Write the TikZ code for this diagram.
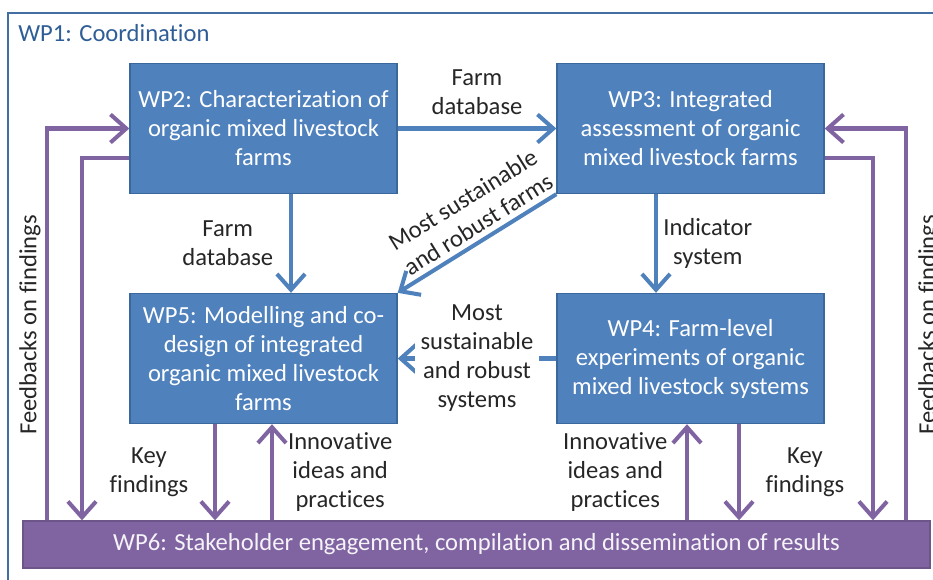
\documentclass[tikz,border=0pt]{standalone}
\usepackage{fontspec}
\setmainfont[Ligatures=NoCommon]{Carlito}
\usepackage{tikz}
\usetikzlibrary{arrows.meta}

\definecolor{wpblue}{HTML}{4F81BD}
\definecolor{wpblueline}{HTML}{3A679C}
\definecolor{wppurple}{HTML}{8064A2}
\definecolor{wptitle}{HTML}{2F5E97}
\definecolor{lbltext}{HTML}{262626}

\tikzset{
    wpbox/.style={draw=wpblueline, line width=0.8pt, fill=wpblue, text=white, align=center,
        minimum width=5.34cm, minimum height=2.6cm, inner sep=2pt},
    flow/.style={draw=wpblue, line width=2.3pt, -{Straight Barb[length=9pt,width=16pt]}},
    feedback/.style={draw=wppurple, line width=2.3pt, -{Straight Barb[length=9pt,width=16pt]}},
    lbl/.style={text=lbltext, align=center, inner sep=3pt},
}

\begin{document}
\begin{tikzpicture}[x=0.02cm, y=-0.02cm, font=\fontsize{14}{16.5}\selectfont]
        \useasboundingbox (0,0) rectangle (933,579);
        \draw [wpblue!85!black, line width=1.1pt] (8,600) -- (8,13) -- (945,13) -- (945,600);
        \node [anchor=west, text=wptitle, inner sep=0pt] (WP1) at (18,33) {WP1: Coordination};

        \node [wpbox] (WP2) at (263.5,128.5) {WP2: Characterization of\\organic mixed livestock\\farms};
        \node [wpbox] (WP3) at (690.5,128.5) {WP3: Integrated\\assessment of organic\\mixed livestock farms};
        \node [wpbox] (WP5) at (263.5,358.5) {WP5: Modelling and co-\\design of integrated\\organic mixed livestock\\farms};
        \node [wpbox] (WP4) at (690.5,358.5) {WP4: Farm-level\\experiments of organic\\mixed livestock systems};
        \node [wpbox, fill=wppurple, draw=wppurple!85!black, text=white!92!wppurple,
            minimum width=18.14cm, minimum height=0.94cm] (WP6) at (476.5,544.5)
            {WP6: Stakeholder engagement, compilation and dissemination of results};

        \coordinate (fbL) at (47,0);
        \coordinate (kfL) at (82,0);
        \coordinate (kf5) at (215,0);
        \coordinate (ip5) at (272,0);
        \coordinate (ip4) at (687,0);
        \coordinate (kf4) at (739,0);
        \coordinate (kfR) at (873,0);
        \coordinate (fbR) at (906,0);

        % work package flows
        \draw [flow] (WP2) -- (WP3) node [midway, above=4pt, lbl] {Farm\\database};
        \draw [flow] ([xshift=0.55cm]WP2.south) -- ([xshift=0.55cm]WP5.north) node [midway, left=6pt, lbl] {Farm\\database};
        \draw [flow] (WP3.south west) -- (WP5.north east) node [pos=0.44, sloped, above, lbl] {Most sustainable\\and robust farms};
        \draw [flow] ([xshift=-0.69cm]WP3.south) -- ([xshift=-0.69cm]WP4.north) node [midway, right, lbl] {Indicator\\system};
        \draw [flow] (WP4) -- (WP5) node [midway, fill=white, lbl] {Most\\sustainable\\and robust\\systems};

        % exchanges with WP6
        \draw [feedback] (kf5 |- WP5.south) -- (kf5 |- WP6.north) node [midway, left=11pt, lbl] {Key\\findings};
        \draw [feedback] (ip5 |- WP6.north) -- (ip5 |- WP5.south) node [midway, right=5pt, lbl] {Innovative\\ideas and\\practices};
        \draw [feedback] (ip4 |- WP6.north) -- (ip4 |- WP4.south) node [midway, left=7pt, lbl] {Innovative\\ideas and\\practices};
        \draw [feedback] (kf4 |- WP4.south) -- (kf4 |- WP6.north) node [midway, right=11pt, lbl] {Key\\findings};

        % feedback loops
        \draw [feedback] (fbL |- WP6.north) |- (WP2.west);
        \draw [feedback] ([yshift=-0.59cm]WP2.west) -| (kfL |- WP6.north);
        \draw [feedback] (fbR |- WP6.north) |- (WP3.east);
        \draw [feedback] ([yshift=-0.59cm]WP3.east) -| (kfR |- WP6.north);
        \node [lbl, rotate=90] (FBL) at (30,325) {Feedbacks on findings};
        \node [lbl, rotate=90] (FBR) at (929,325) {Feedbacks on findings};
    \end{tikzpicture}
\end{document}
